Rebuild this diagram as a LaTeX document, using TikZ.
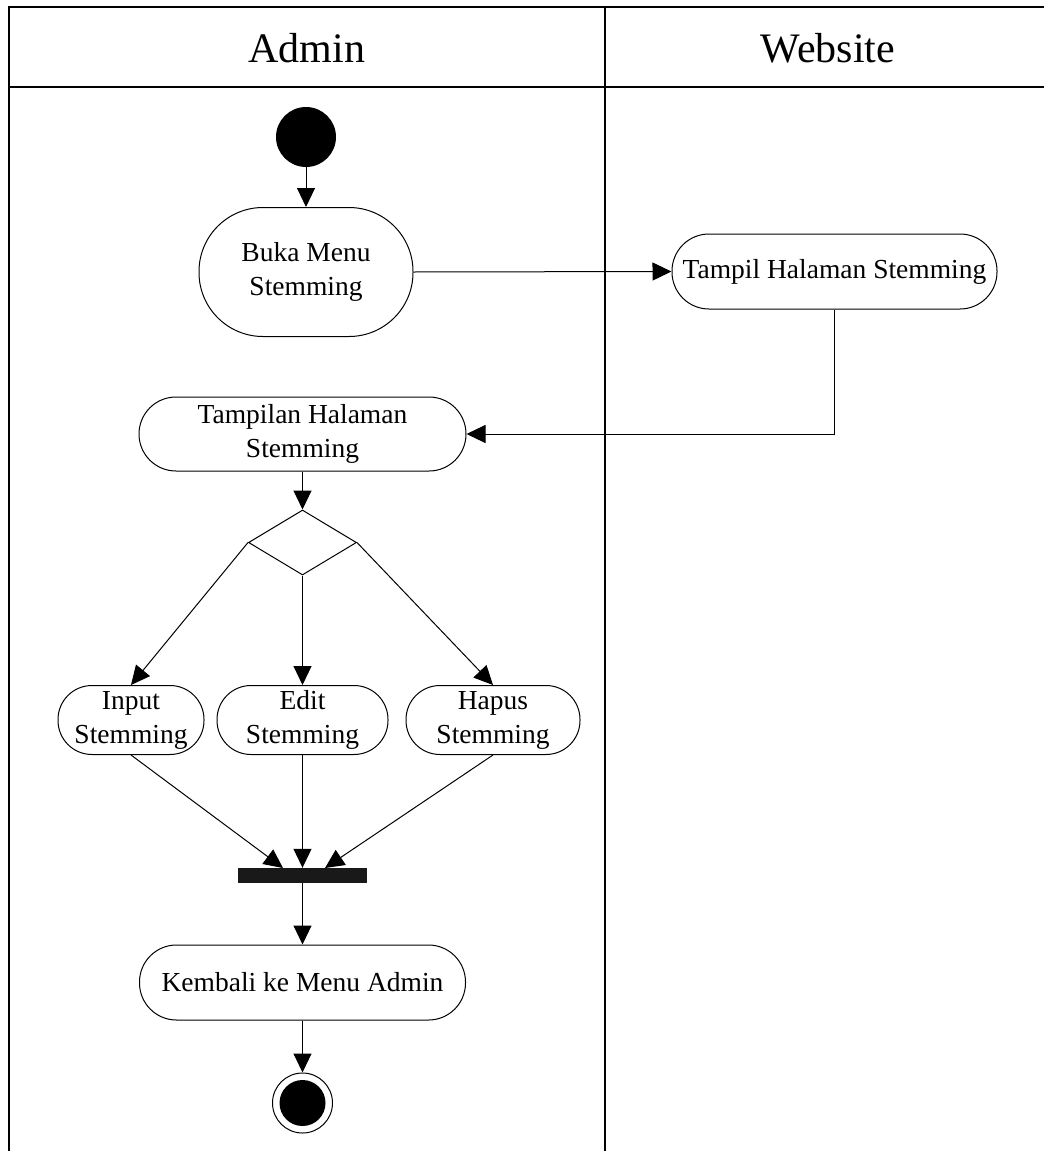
\documentclass[tikz,border=0pt]{standalone}
\usepackage{fontspec}
\setmainfont{Liberation Serif}
\usetikzlibrary{arrows.meta,shapes.geometric}
\begin{document}
\begin{tikzpicture}[x=1pt,y=-1pt,
  act/.style={draw, line width=1pt, rectangle, inner sep=0pt, align=center,
    font=\fontsize{27.5}{34}\selectfont},
  lane/.style={font=\fontsize{42}{48}\selectfont, inner sep=0pt},
  flow/.style={line width=1pt, -{Triangle[length=19pt,width=18pt]}},
  frame/.style={line width=2pt},
  divider/.style={line width=1.2pt}]
\useasboundingbox (0,0) rectangle (1044,1151);
% swimlane frame
\draw[frame] (1044,7) -- (9,7) -- (9,1151);
\draw[frame] (9,87) -- (1044,87);
\draw[divider] (605,7) -- (605,1151);
\node[lane] (hAdmin) at (307,48) {Admin};
\node[lane] (hWeb) at (828,48) {Website};
% nodes
\node[circle, fill=black, minimum size=60pt, inner sep=0pt] (start) at (306,137) {};
\node[act, minimum width=214pt, minimum height=129pt, rounded corners=64pt] (buka) at (306,272) {Buka Menu\\Stemming};
\node[act, minimum width=325pt, minimum height=75pt, rounded corners=37pt] (tampil) at (834.5,271.5) {Tampil Halaman Stemming};
\node[act, minimum width=327pt, minimum height=74pt, rounded corners=37pt] (tampilan) at (302.5,434) {Tampilan Halaman\\Stemming};
\node[draw, line width=1pt, diamond, inner sep=0pt, minimum width=108pt, minimum height=65pt] (dec) at (302.5,542.5) {};
\node[act, minimum width=146pt, minimum height=69pt, rounded corners=34pt] (input) at (131,720) {Input\\Stemming};
\node[act, minimum width=171pt, minimum height=69pt, rounded corners=34pt] (edit) at (302.5,720) {Edit\\Stemming};
\node[act, minimum width=174pt, minimum height=69pt, rounded corners=34pt] (hapus) at (493,720) {Hapus\\Stemming};
\node[fill=black!90, minimum width=129pt, minimum height=15pt, inner sep=0pt] (bar) at (302.5,875.5) {};
\coordinate (j1) at (283,868);
\coordinate (j3) at (325,868);
\node[act, minimum width=326pt, minimum height=75pt, rounded corners=37pt] (kembali) at (302.5,982.5) {Kembali ke Menu Admin};
\node[circle, draw, line width=1pt, minimum size=60pt, inner sep=0pt] (end) at (302.5,1103) {};
\fill (end.center) circle (23pt);
% connectors
\draw[flow] (start) -- (buka);
\draw[flow] (buka.east) -- (tampil.west);
\draw[flow] (tampil.south) |- (tampilan.east);
\draw[flow] (tampilan.south) -- (dec.north);
\draw[flow] (dec.west) -- (input.north);
\draw[flow] (dec.south) -- (edit.north);
\draw[flow] (dec.east) -- (hapus.north);
\draw[flow] (input.south) -- (j1);
\draw[flow] (edit.south) -- (bar.north);
\draw[flow] (hapus.south) -- (j3);
\draw[flow] (bar.south) -- (kembali.north);
\draw[flow] (kembali.south) -- (end.north);
\end{tikzpicture}
\end{document}
